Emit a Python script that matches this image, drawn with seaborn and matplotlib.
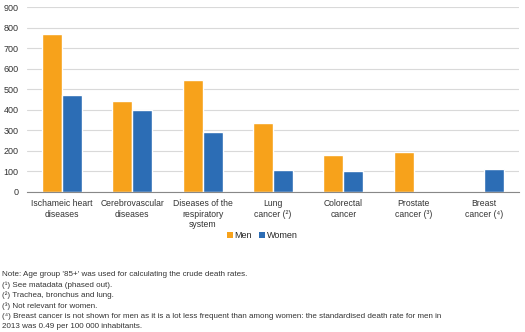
import matplotlib
matplotlib.use("Agg")
import matplotlib.pyplot as plt
from matplotlib.patches import Patch
import seaborn as sns
import pandas as pd

categories = [
    "Ischameic heart\ndiseases",
    "Cerebrovascular\ndiseases",
    "Diseases of the\nrespiratory\nsystem",
    "Lung\ncancer (\u00b2)",
    "Colorectal\ncancer",
    "Prostate\ncancer (\u00b3)",
    "Breast\ncancer (\u2074)",
]
men = [771, 443, 543, 336, 177, 192, 0.49]
women = [472, 397, 292, 105, 100, 0, 112]
series = ["Men", "Women"]
colors = ["#F7A21B", "#2C6DB5"]
yticks = [0, 100, 200, 300, 400, 500, 600, 700, 800, 900]

notes = [
    "Note: Age group '85+' was used for calculating the crude death rates.",
    "(\u00b9) See matadata (phased out).",
    "(\u00b2) Trachea, bronchus and lung.",
    "(\u00b3) Not relevant for women.",
    "(\u2074) Breast cancer is not shown for men as it is a lot less frequent than among women: the standardised death rate for men in",
    "2013 was 0.49 per 100 000 inhabitants.",
]

df = pd.DataFrame({
    "category": categories * 2,
    "sex": [series[0]] * len(categories) + [series[1]] * len(categories),
    "value": men + women,
})

sns.set_theme(style="white")
plt.rcParams["font.family"] = ["Liberation Sans", "DejaVu Sans"]

fig = plt.figure(figsize=(5.25, 3.32), dpi=100)
ax = fig.add_axes([0.051, 0.4226, 0.938, 0.5554])

sns.barplot(data=df, x="category", y="value", hue="sex", palette=colors,
            width=0.57, saturation=1, ax=ax, legend=False)

ax.set_ylim(0, 900)
ax.set_xlim(-0.5, len(categories) - 0.5)
ax.set_yticks(yticks)
ax.set_yticklabels([str(t) for t in yticks], fontsize=6.5, color="#333333")
ax.set_xlabel("")
ax.set_ylabel("")
ax.yaxis.grid(True, color="#d9d9d9", linewidth=0.8)
ax.set_axisbelow(True)
for side in ["top", "right", "left"]:
    ax.spines[side].set_visible(False)
ax.spines["bottom"].set_color("#888888")
ax.spines["bottom"].set_linewidth(0.8)
ax.tick_params(axis="y", length=0, pad=6)

# category labels centred under groups, tick marks between groups
ax.set_xticks(range(len(categories)))
ax.set_xticklabels(categories, fontsize=6.2, color="#333333", linespacing=1.2)
ax.tick_params(axis="x", which="major", length=0, pad=5.5)
ax.set_xticks([i - 0.5 for i in range(len(categories) + 1)], minor=True)
ax.tick_params(axis="x", which="minor", length=3, color="#888888", width=0.8)

handles = [Patch(facecolor=c, edgecolor="none") for c in colors]
fig.legend(handles, series, loc="center", bbox_to_anchor=(0.5, 1 - 235.5 / 332),
           ncol=2, frameon=False, fontsize=6.5, handlelength=0.6, handleheight=0.6,
           handletextpad=0.2, columnspacing=0.8)

for i, line in enumerate(notes):
    fig.text(2 / 525, 1 - (274.5 + i * 10.5) / 332, line, fontsize=5.75,
             color="#333333", va="center", ha="left")

fig.savefig("out.png", dpi=100)
